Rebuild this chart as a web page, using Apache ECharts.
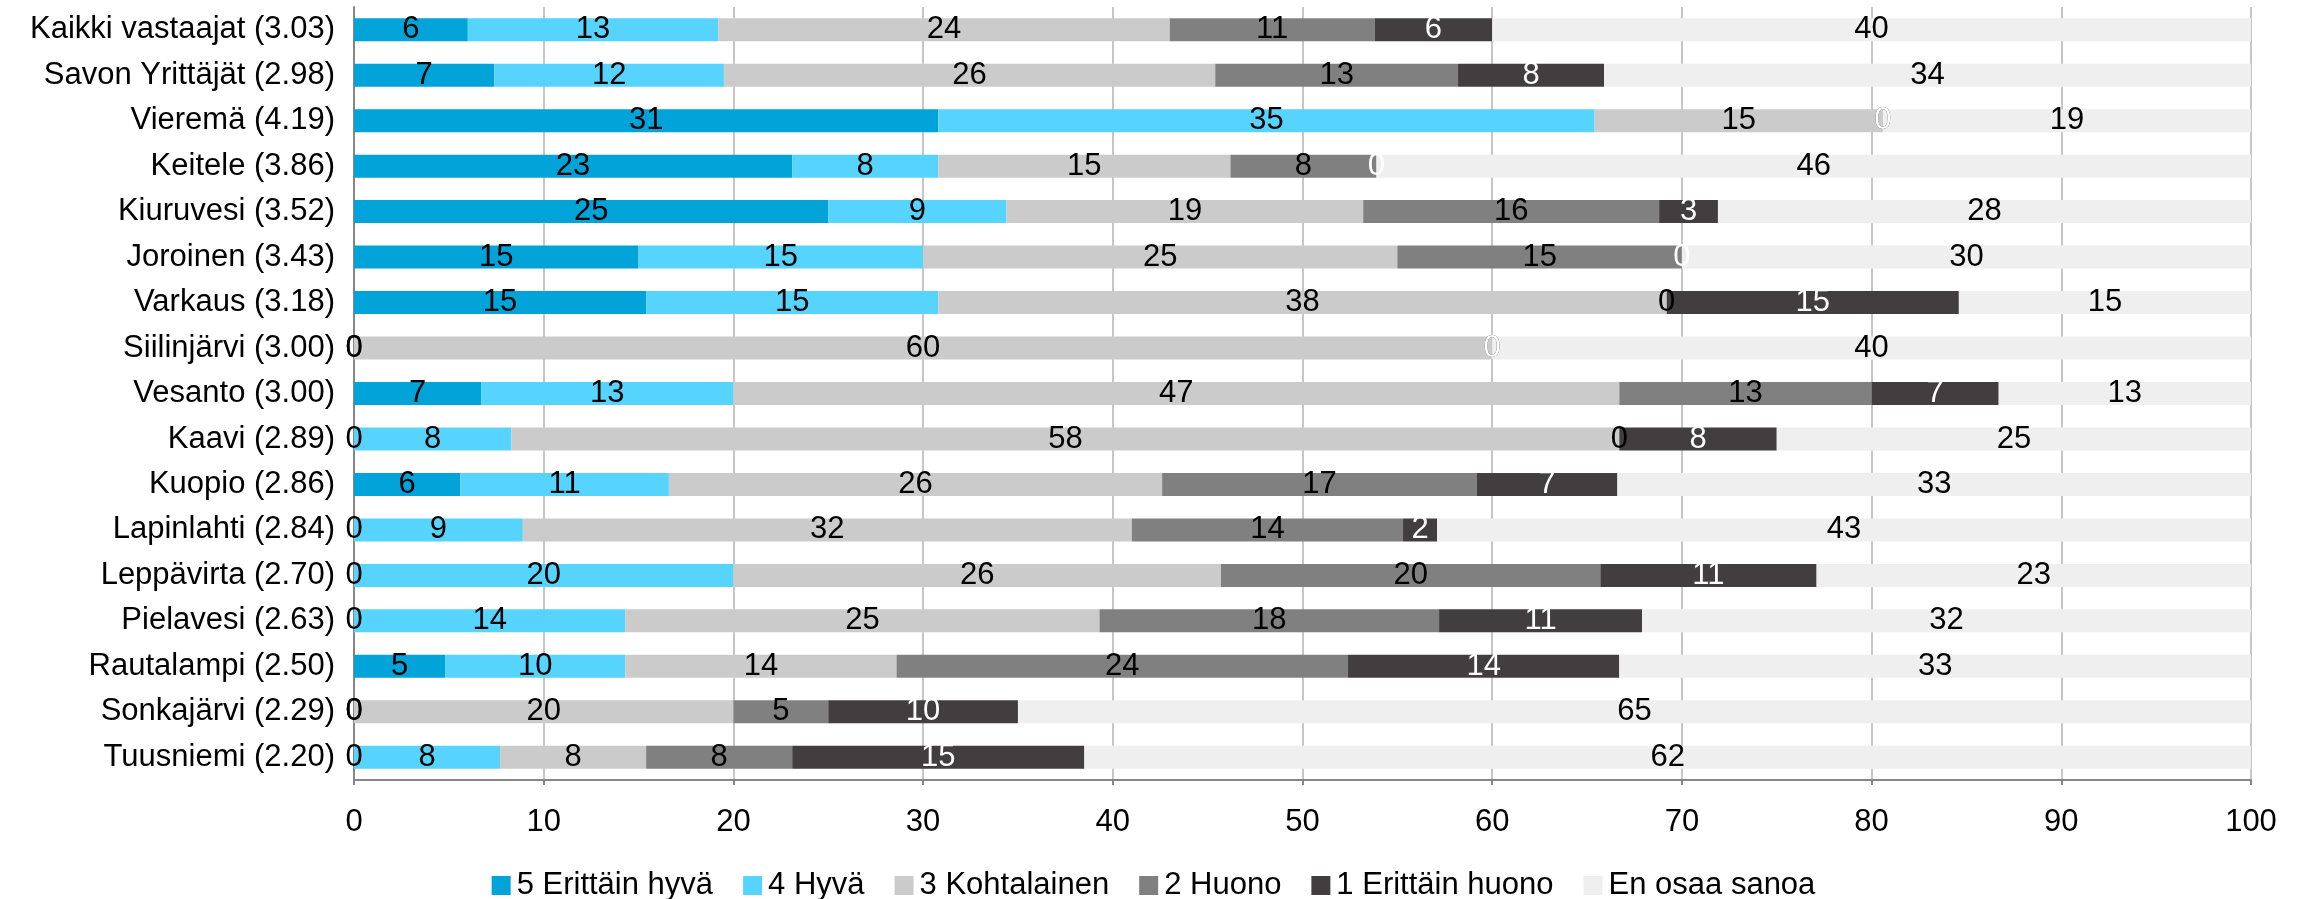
<!DOCTYPE html>
<html>
<head>
<meta charset="utf-8">
<script src="https://cdn.jsdelivr.net/npm/echarts@6/dist/echarts.min.js"></script>
<style>
html,body{margin:0;padding:0;background:#fff;}
#chart{width:2307px;height:899px;}
</style>
</head>
<body>
<div id="chart"></div>
<script>
const categories = ["Kaikki vastaajat (3.03)", "Savon Yrittäjät (2.98)", "Vieremä (4.19)", "Keitele (3.86)", "Kiuruvesi (3.52)", "Joroinen (3.43)", "Varkaus (3.18)", "Siilinjärvi (3.00)", "Vesanto (3.00)", "Kaavi (2.89)", "Kuopio (2.86)", "Lapinlahti (2.84)", "Leppävirta (2.70)", "Pielavesi (2.63)", "Rautalampi (2.50)", "Sonkajärvi (2.29)", "Tuusniemi (2.20)"];
const seriesNames = ["5 Erittäin hyvä", "4 Hyvä", "3 Kohtalainen", "2 Huono", "1 Erittäin huono", "En osaa sanoa"];
const erittainHyva = [6.0, 7.4, 30.8, 23.1, 25.0, 15.0, 15.4, 0, 6.7, 0, 5.6, 0, 0, 0, 4.8, 0, 0];
const hyva = [13.2, 12.1, 34.6, 7.7, 9.4, 15.0, 15.4, 0, 13.3, 8.3, 11.0, 8.9, 20.0, 14.3, 9.5, 0, 7.7];
const kohtalainen = [23.8, 25.9, 15.2, 15.4, 18.8, 25.0, 38.4, 60.0, 46.7, 58.4, 26.0, 32.1, 25.7, 25.0, 14.3, 20.0, 7.7];
const huono = [10.8, 12.8, 0, 7.7, 15.6, 15.0, 0, 0, 13.3, 0, 16.6, 14.3, 20.0, 17.9, 23.8, 5.0, 7.7];
const erittainHuono = [6.2, 7.7, 0, 0, 3.1, 0, 15.4, 0, 6.7, 8.3, 7.4, 1.8, 11.4, 10.7, 14.3, 10.0, 15.4];
const enOsaa = [40.0, 34.1, 19.4, 46.2, 28.1, 30.0, 15.4, 40.0, 13.3, 25.0, 33.4, 42.9, 22.9, 32.1, 33.3, 65.0, 61.5];
const xTicks = [0, 10, 20, 30, 40, 50, 60, 70, 80, 90, 100];

const allData = [erittainHyva, hyva, kohtalainen, huono, erittainHuono, enOsaa];
const colors = ["#01A3D8", "#56D4FE", "#CBCBCB", "#808080", "#423E3F", "#EFEFEF"];
const labelColors = ["#000", "#000", "#000", "#000", "#fff", "#000"];
const FONT = "'Liberation Sans', Arial, sans-serif";

const chart = echarts.init(document.getElementById('chart'));
chart.setOption({
  animation: false,
  textStyle: { fontFamily: FONT },
  grid: { left: 354, right: 56, top: 7, bottom: 119, containLabel: false },
  legend: {
    data: seriesNames,
    top: 865,
    left: 'center',
    itemWidth: 19,
    itemHeight: 19,
    itemGap: 30,
    icon: 'rect',
    textStyle: { fontSize: 31, color: '#000', fontFamily: FONT, padding: [0, 0, 0, 1] }
  },
  xAxis: {
    type: 'value',
    min: xTicks[0],
    max: xTicks[xTicks.length - 1],
    interval: 10,
    axisLine: { show: true, lineStyle: { color: '#868686', width: 2 } },
    axisTick: { show: true, length: 5, lineStyle: { color: '#868686', width: 2 } },
    axisLabel: { fontSize: 31, color: '#000', margin: 27, fontFamily: FONT },
    splitLine: { show: true, lineStyle: { color: '#C6C6C6', width: 2 } }
  },
  yAxis: {
    type: 'category',
    data: categories,
    inverse: true,
    axisLine: { show: true, lineStyle: { color: '#868686', width: 2 } },
    axisTick: { show: false },
    axisLabel: { fontSize: 31, color: '#000', margin: 19, fontFamily: FONT }
  },
  series: allData.map((d, i) => ({
    name: seriesNames[i],
    type: 'bar',
    stack: 'total',
    barWidth: 23,
    data: d,
    itemStyle: { color: colors[i] },
    label: {
      show: true,
      position: 'inside',
      fontSize: 31,
      color: labelColors[i],
      fontFamily: FONT,
      formatter: p => String(Math.round(p.value))
    }
  }))
});
</script>
</body>
</html>
